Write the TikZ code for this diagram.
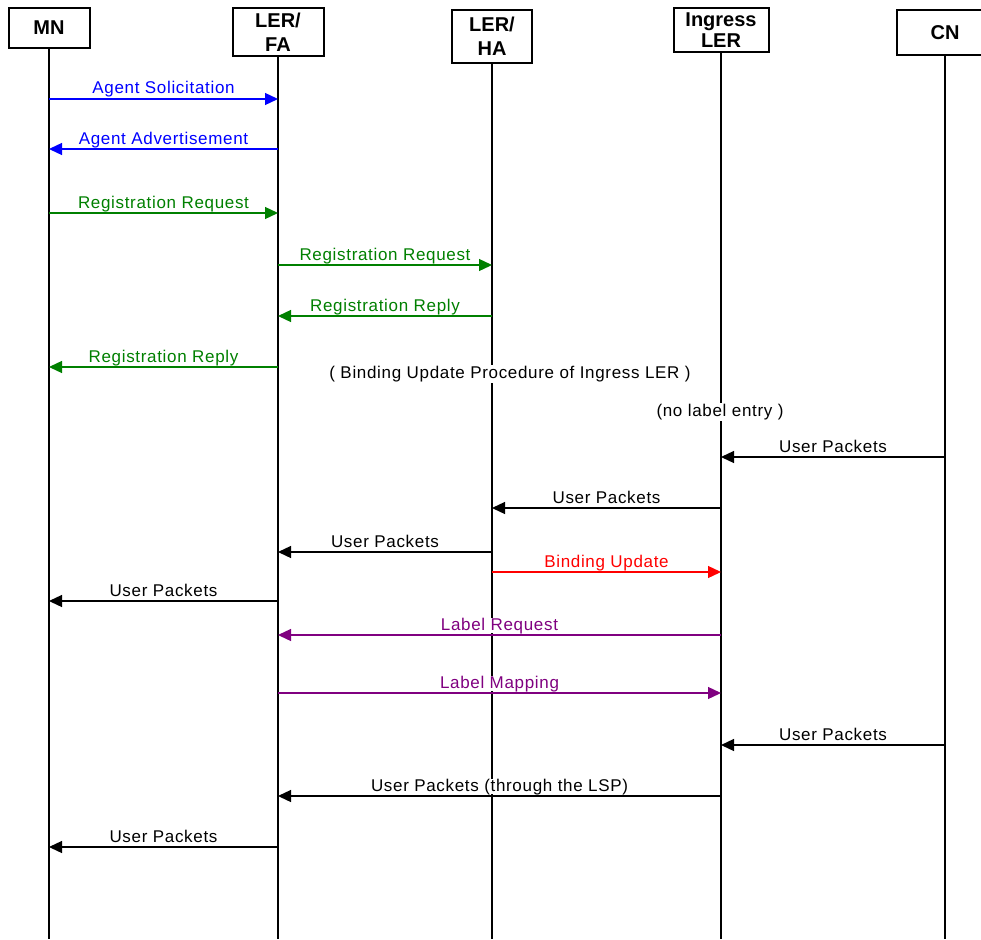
\documentclass[tikz,border=0pt]{standalone}
\usepackage{fontspec}
\setmainfont{Liberation Sans}
\newfontfamily\lblfont[LetterSpace=4]{Liberation Sans}
\usetikzlibrary{arrows.meta}
\definecolor{cblue}{RGB}{0,0,255}
\definecolor{cgreen}{RGB}{0,128,0}
\definecolor{cred}{RGB}{255,0,0}
\definecolor{cpurple}{RGB}{128,0,128}
\tikzset{
  head/.style={draw, line width=2pt, fill=white, align=center, inner sep=0pt,
    font=\fontsize{20}{24}\selectfont\bfseries},
  life/.style={line width=1.8pt},
  msgarrow/.style={line width=1.3pt, -{Triangle[length=13pt,width=12pt]}},
  lbl/.style={fill=white, inner sep=0.5pt, text height=12pt, text depth=2pt,
    font=\lblfont\fontsize{17}{20}\selectfont},
  note/.style={fill=white, inner sep=1.5pt, text height=12pt, text depth=3.5pt,
    font=\lblfont\fontsize{17}{20}\selectfont}
}
\begin{document}
\begin{tikzpicture}[x=1pt,y=-1pt]
\useasboundingbox (0,0) rectangle (981,939);
% heads
\node[head, minimum width=81pt, minimum height=40pt] (MN) at (49,28) {MN};
\node[head, minimum width=91pt, minimum height=48pt] (FA) at (278,32) {LER/\\FA};
\node[head, minimum width=80pt, minimum height=53pt] (HA) at (492,36.5) {LER/\\HA};
\node[head, minimum width=95pt, minimum height=44pt,
  font=\fontsize{20}{21}\selectfont\bfseries] (IL) at (721,30) {Ingress\\LER};
\node[head, minimum width=96pt, minimum height=45pt] (CN) at (945,32.5) {CN};
% lifeline ends
\coordinate (MNe) at (MN.south |- 0,939);
\coordinate (FAe) at (FA.south |- 0,939);
\coordinate (HAe) at (HA.south |- 0,939);
\coordinate (ILe) at (IL.south |- 0,939);
\coordinate (CNe) at (CN.south |- 0,939);
\draw[life] (MN.south) -- (MNe);
\draw[life] (FA.south) -- (FAe);
\draw[life] (HA.south) -- (HAe);
\draw[life] (IL.south) -- (ILe);
\draw[life] (CN.south) -- (CNe);
% messages
\newcommand{\msgline}[5]{%
  \draw[msgarrow, draw=#5, fill=#5] (#1.south |- 0,#3) -- (#2.south |- 0,#3)
    node[lbl, text=#5, midway, yshift=10pt] {#4};}
\msgline{MN}{FA}{99}{Agent Solicitation}{cblue}
\msgline{FA}{MN}{149}{Agent Advertisement}{cblue}
\msgline{MN}{FA}{213}{Registration Request}{cgreen}
\msgline{FA}{HA}{265}{Registration Request}{cgreen}
\msgline{HA}{FA}{316}{Registration Reply}{cgreen}
\msgline{FA}{MN}{367}{Registration Reply}{cgreen}
\node[note] (bup) at (510,374) {( Binding Update Procedure of Ingress LER )};
\node[note] (nle) at (720,412) {(no label entry )};
\msgline{CN}{IL}{457}{User Packets}{black}
\msgline{IL}{HA}{508}{User Packets}{black}
\msgline{HA}{FA}{552}{User Packets}{black}
\msgline{HA}{IL}{572}{Binding Update}{cred}
\msgline{FA}{MN}{601}{User Packets}{black}
\msgline{IL}{FA}{635}{Label Request}{cpurple}
\msgline{FA}{IL}{693}{Label Mapping}{cpurple}
\msgline{CN}{IL}{745}{User Packets}{black}
\msgline{IL}{FA}{796}{User Packets (through the LSP)}{black}
\msgline{FA}{MN}{847}{User Packets}{black}
\end{tikzpicture}
\end{document}
